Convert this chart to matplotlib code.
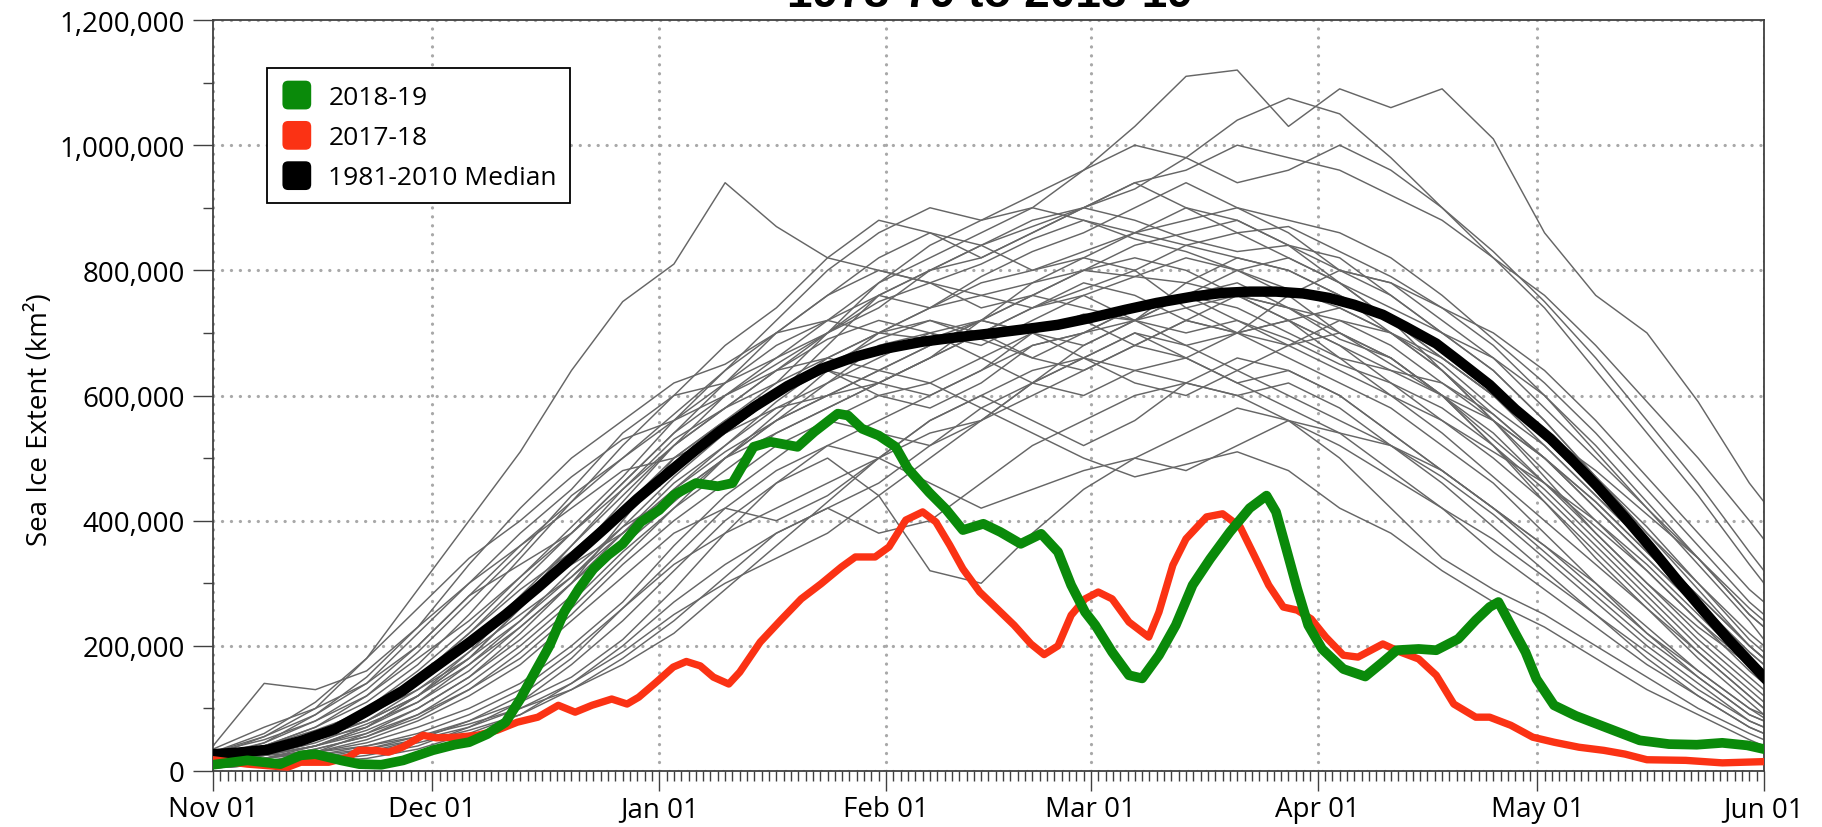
import numpy as np
import matplotlib
matplotlib.use("Agg")
import matplotlib.pyplot as plt
from matplotlib.patches import FancyBboxPatch, Patch
from matplotlib.legend_handler import HandlerPatch

plt.rcParams['font.family'] = ['Open Sans', 'DejaVu Sans']

# ---------------- data (days since Nov 01, extent in thousand km^2) -------------
month_ticks = [0, 30, 61, 92, 120, 151, 181, 212]
month_labels = ["Nov 01", "Dec 01", "Jan 01", "Feb 01", "Mar 01", "Apr 01", "May 01", "Jun 01"]

green_days = [0, 4.7, 9.2, 12, 14, 17.5, 20, 23, 26, 30, 33, 35, 37.5, 40, 42, 44, 46, 48, 50,
              52, 54, 56, 58.5, 61, 63, 66, 69, 71, 73.9, 76.2, 79.9, 82.2, 85.4, 86.8, 88.7, 91,
              93.3, 95, 97.9, 100.2, 102.5, 105.3, 107.6, 110.4, 113.2, 115.5, 117.3, 119.2, 120.6,
              122.9, 125.2, 127, 129.3, 131.6, 133.9, 136.3, 139, 141.7, 144, 145.3, 146.7, 148.2,
              149.7, 151.6, 154.5, 157.5, 159.9, 161.8, 164.8, 167.2, 170.2, 172.6, 174.5, 175.7,
              177.4, 179.4, 180.9, 183.3, 186.3, 189.2, 192.1, 195, 199, 202.8, 206.3, 209.7, 212]
green_vals = [10, 17, 11, 25, 27, 17, 11, 10, 17, 33, 42, 46, 59, 78, 115, 158, 200, 254, 291,
              323, 345, 363, 398, 417, 441, 460, 455, 460, 518, 526, 518, 542, 571, 568, 547, 536,
              518, 483, 445, 418, 385, 395, 382, 363, 379, 350, 297, 254, 233,
              190, 153, 148, 185, 233, 297, 339, 382, 420, 440, 414, 355, 291,
              233, 195, 163, 151, 174, 193, 195, 193, 211, 241, 262, 270,
              233, 190, 147, 105, 88, 75, 62, 49, 43, 42, 45, 41, 35]

red_days = [0, 4.7, 10.2, 12, 15.8, 18.5, 19.9, 22.2, 24, 25.9, 28.7, 30.5, 33.3, 36.1, 38.8, 41.6,
            44.4, 47.2, 49.5, 51.8, 54.5, 56.6, 58.2, 60.6, 62.9, 64.7, 66.6, 68.4, 70.5, 72, 74.8,
            77.6, 80.4, 83.1, 85.9, 87.8, 90.5, 92.4, 94.7, 97, 98.8, 100.7, 102.5, 104.8, 107.2,
            109.5, 111.8, 113.6, 115.5, 117.3, 119.2, 121, 122.9, 125.2, 127.9, 129.3, 131.2, 133,
            135.8, 138, 140.4, 142.3, 144.3, 146.3, 148.2, 150.1, 152.1, 154.5, 156.5, 159.9,
            162.3, 164.8, 167.2, 169.6, 172.6, 174.5, 177.4, 180.4, 183.3, 186.7, 190.1, 193, 196,
            201.3, 206.3, 212]
red_vals = [18, 11, 6, 14, 14, 22, 33, 33, 30, 38, 57, 53, 54, 57, 65, 78,
            86, 105, 94, 105, 115, 107, 118, 142, 166, 175, 168, 150, 139, 158, 206,
            241, 275, 299, 326, 342, 342, 358, 401, 414, 398, 361, 323, 286, 259,
            233, 203, 186, 200, 249, 275, 286, 275, 238, 214, 254, 329, 371,
            406, 411, 390, 345, 297, 262, 257, 243, 214, 185, 182, 203,
            190, 179, 153, 107, 86, 86, 73, 54, 46, 38, 33, 27, 18,
            17, 13, 15]

median_days = [0, 3, 7.5, 12, 16.7, 21, 25.9, 30, 35.1, 40, 44.4, 49, 53.6, 58, 62.9, 66, 69.3,
               74, 78.5, 83, 87.8, 92, 97, 101, 106.2, 111, 115.5, 120, 124.7, 129, 133.9, 138,
               141.7, 145.3, 149, 152.5, 156, 159.9, 163, 167.2, 170, 174.5, 178, 182.8, 186,
               189.2, 193, 196.5, 200, 203.8, 207, 212]
median_vals = [27, 29, 34, 48, 67, 95, 128, 163, 206, 250, 293, 340, 388, 435, 483, 513, 543,
               582, 615, 642, 662, 675, 686, 692, 699, 706, 713, 724, 737, 748, 758, 764,
               766, 766, 763, 756, 745, 729, 710, 683, 658, 617, 578, 531, 494,
               455, 405, 357, 307, 255, 212, 150]

grey_days = [0, 7, 14, 21, 28, 35, 42, 49, 56, 63, 70, 77, 84, 91, 98, 105, 112, 119, 126, 133,
             140, 147, 154, 161, 168, 175, 182, 189, 196, 203, 210, 212]
grey_seasons = [
    [40, 140, 130, 160, 230, 330, 420, 500, 560, 620, 650, 700, 720, 760, 740, 780, 800, 830, 860, 840, 820, 800, 760, 720, 640, 560, 470, 380, 300, 220, 150, 130],
    [30, 60, 110, 180, 260, 340, 400, 470, 530, 560, 600, 640, 690, 720, 700, 680, 720, 760, 790, 820, 800, 760, 700, 650, 600, 540, 460, 390, 320, 240, 170, 150],
    [25, 55, 100, 180, 290, 400, 510, 640, 750, 810, 940, 870, 820, 800, 780, 810, 850, 880, 850, 830, 800, 770, 740, 700, 650, 580, 520, 440, 360, 280, 200, 180],
    [20, 45, 90, 150, 230, 300, 380, 450, 540, 600, 620, 660, 700, 740, 800, 840, 870, 900, 880, 850, 830, 840, 820, 760, 700, 640, 560, 470, 380, 300, 220, 200],
    [15, 40, 70, 120, 190, 270, 350, 440, 500, 560, 620, 680, 720, 700, 690, 720, 760, 740, 720, 700, 720, 690, 650, 620, 580, 520, 450, 370, 290, 210, 140, 120],
    [35, 70, 100, 140, 200, 280, 330, 380, 450, 530, 580, 640, 660, 640, 620, 660, 700, 730, 720, 760, 780, 740, 690, 660, 600, 530, 460, 380, 300, 230, 170, 150],
    [10, 20, 40, 70, 120, 180, 260, 340, 430, 520, 600, 650, 700, 750, 780, 760, 740, 770, 800, 840, 860, 870, 830, 790, 740, 680, 600, 510, 420, 330, 240, 210],
    [20, 30, 50, 80, 130, 190, 250, 310, 380, 460, 520, 590, 650, 690, 720, 700, 660, 640, 680, 720, 760, 740, 700, 660, 600, 520, 430, 340, 260, 180, 110, 90],
    [15, 25, 45, 75, 110, 160, 230, 300, 400, 500, 560, 600, 640, 600, 580, 620, 680, 700, 740, 760, 740, 700, 660, 640, 620, 570, 500, 420, 340, 260, 180, 160],
    [25, 35, 55, 90, 140, 200, 280, 360, 450, 520, 580, 620, 660, 700, 740, 790, 830, 860, 900, 940, 900, 880, 860, 820, 760, 690, 620, 540, 450, 360, 270, 250],
    [10, 15, 30, 60, 100, 150, 220, 300, 370, 450, 520, 580, 600, 640, 680, 720, 700, 660, 620, 600, 640, 680, 700, 660, 600, 520, 440, 360, 280, 200, 130, 110],
    [20, 30, 50, 70, 110, 170, 240, 320, 390, 440, 500, 560, 620, 680, 700, 660, 620, 600, 640, 660, 620, 580, 540, 520, 480, 420, 360, 290, 220, 160, 100, 90],
    [30, 40, 60, 100, 150, 220, 290, 350, 420, 480, 540, 600, 680, 760, 800, 820, 860, 900, 940, 960, 1000, 980, 960, 920, 880, 820, 760, 680, 590, 500, 400, 370],
    [20, 30, 50, 90, 150, 220, 300, 380, 460, 540, 600, 660, 720, 780, 820, 860, 900, 960, 1030, 1110, 1120, 1030, 1090, 1060, 1090, 1010, 860, 760, 700, 590, 460, 430],
    [15, 25, 40, 70, 120, 190, 270, 360, 440, 520, 580, 640, 700, 760, 800, 840, 880, 900, 930, 980, 1040, 1075, 1050, 980, 900, 820, 740, 640, 540, 440, 330, 300],
    [10, 20, 35, 55, 90, 140, 200, 270, 350, 420, 480, 540, 580, 620, 660, 700, 740, 780, 760, 720, 700, 720, 740, 700, 660, 600, 540, 470, 390, 300, 210, 190],
    [15, 25, 40, 65, 100, 150, 210, 280, 360, 430, 500, 560, 600, 620, 600, 640, 700, 720, 680, 660, 700, 720, 680, 620, 560, 500, 430, 350, 270, 190, 120, 100],
    [20, 35, 55, 80, 120, 180, 260, 340, 420, 500, 560, 620, 700, 780, 840, 880, 900, 880, 860, 880, 900, 860, 800, 760, 700, 640, 560, 470, 380, 290, 200, 180],
    [5, 10, 20, 35, 55, 80, 110, 150, 210, 290, 380, 460, 520, 560, 600, 640, 680, 700, 720, 740, 760, 720, 660, 600, 540, 470, 400, 330, 260, 190, 120, 100],
    [10, 15, 25, 40, 60, 90, 130, 190, 260, 340, 420, 480, 520, 500, 460, 420, 450, 480, 500, 480, 520, 560, 540, 480, 420, 350, 290, 230, 170, 120, 70, 60],
    [5, 10, 15, 25, 40, 70, 110, 170, 240, 320, 400, 460, 500, 440, 320, 300, 380, 450, 500, 540, 580, 560, 500, 420, 340, 290, 250, 200, 150, 100, 60, 50],
    [10, 15, 20, 30, 50, 80, 120, 180, 260, 330, 380, 420, 460, 500, 540, 560, 600, 640, 680, 720, 700, 660, 620, 580, 520, 460, 380, 300, 220, 150, 90, 80],
    [15, 20, 30, 45, 70, 100, 140, 200, 270, 360, 440, 500, 560, 600, 620, 580, 540, 500, 470, 490, 510, 480, 420, 380, 320, 270, 230, 180, 130, 90, 50, 40],
    [5, 10, 15, 20, 35, 60, 90, 140, 200, 270, 330, 380, 420, 460, 520, 580, 620, 660, 700, 680, 640, 600, 560, 520, 470, 410, 340, 270, 200, 140, 80, 70],
    [10, 15, 25, 35, 50, 70, 100, 140, 190, 250, 300, 340, 380, 440, 500, 560, 620, 680, 720, 760, 800, 820, 780, 720, 660, 600, 520, 440, 360, 280, 200, 180],
    [20, 25, 30, 40, 55, 75, 100, 130, 170, 220, 290, 360, 430, 500, 560, 600, 640, 660, 640, 620, 600, 620, 580, 520, 460, 390, 320, 250, 180, 120, 70, 60],
    [20, 40, 70, 110, 170, 250, 340, 430, 500, 570, 640, 700, 760, 800, 780, 740, 760, 800, 840, 860, 880, 840, 780, 720, 660, 600, 540, 480, 410, 340, 260, 240],
    [30, 50, 80, 120, 180, 240, 310, 380, 460, 540, 620, 700, 760, 820, 860, 840, 800, 820, 860, 900, 880, 840, 800, 780, 740, 700, 640, 560, 470, 380, 290, 270],
    [15, 30, 55, 90, 140, 200, 270, 340, 410, 480, 540, 600, 660, 700, 740, 760, 780, 800, 790, 780, 760, 740, 720, 680, 620, 560, 500, 430, 350, 270, 190, 170],
    [25, 40, 60, 90, 130, 180, 240, 310, 390, 470, 540, 580, 620, 660, 700, 720, 700, 680, 720, 780, 820, 800, 760, 700, 640, 570, 500, 420, 340, 260, 180, 160],
    [10, 20, 35, 55, 85, 130, 190, 260, 340, 420, 500, 570, 640, 700, 720, 690, 660, 700, 740, 760, 720, 680, 640, 600, 560, 510, 460, 400, 330, 250, 170, 150],
    [20, 30, 50, 80, 120, 170, 230, 300, 380, 450, 510, 560, 600, 640, 680, 720, 760, 800, 820, 800, 760, 720, 680, 640, 600, 560, 500, 430, 350, 270, 190, 170],
    [20, 35, 60, 100, 160, 230, 310, 390, 470, 560, 640, 720, 800, 860, 900, 880, 920, 960, 1000, 980, 940, 960, 1000, 960, 900, 830, 750, 660, 560, 460, 350, 320],
    [25, 45, 80, 130, 200, 280, 360, 430, 520, 600, 680, 740, 820, 880, 860, 820, 860, 900, 940, 900, 860, 820, 780, 740, 700, 660, 600, 520, 430, 340, 250, 230],
    [10, 20, 30, 50, 80, 120, 170, 240, 310, 380, 420, 400, 440, 500, 560, 600, 560, 520, 560, 620, 660, 640, 600, 540, 480, 420, 360, 300, 230, 160, 100, 85],
    [30, 55, 90, 140, 220, 300, 360, 420, 480, 500, 540, 600, 640, 620, 660, 720, 780, 820, 800, 740, 700, 680, 720, 700, 640, 560, 480, 400, 320, 240, 160, 140],
    [15, 25, 40, 60, 90, 130, 180, 250, 330, 400, 460, 520, 560, 540, 520, 560, 620, 660, 700, 660, 620, 640, 600, 540, 480, 420, 350, 280, 210, 150, 90, 80],
    [20, 40, 65, 95, 140, 200, 270, 330, 380, 440, 500, 540, 580, 620, 660, 700, 740, 760, 720, 680, 700, 760, 800, 780, 720, 660, 580, 500, 420, 340, 250, 230],
    [5, 10, 15, 30, 45, 65, 90, 130, 180, 240, 310, 380, 420, 380, 400, 460, 520, 560, 600, 620, 600, 560, 520, 470, 420, 370, 310, 250, 190, 130, 80, 70],
]

legend_labels = ["2018-19", "2017-18", "1981-2010 Median"]
title_text = "1978-79 to 2018-19"
ylabel_text = "Sea Ice Extent (km²)"

GREEN = "#0a8a0a"
RED = "#fb3214"
BLACK = "#000000"
GREY = "#666666"
AXC = "#404040"

# ---------------- figure ----------------
W, H = 1822, 828
fig = plt.figure(figsize=(W / 100, H / 100), dpi=100)
ax = fig.add_axes([213 / W, 1 - 772 / H, 1551 / W, 751 / H])

k = 1000.0
for vals in grey_seasons:
    ax.plot(grey_days, np.array(vals) * k, color=GREY, lw=1.05, zorder=2)
ax.plot(median_days, np.array(median_vals) * k, color=BLACK, lw=7.5, zorder=3,
        solid_joinstyle='round')
ax.plot(red_days, np.array(red_vals) * k, color=RED, lw=5.3, zorder=4, solid_joinstyle='round')
ax.plot(green_days, np.array(green_vals) * k, color=GREEN, lw=7.0, zorder=5,
        solid_joinstyle='round')

ax.set_xlim(0, 212)
ax.set_ylim(0, 1200000)

ax.set_xticks(month_ticks)
ax.set_xticklabels(month_labels)
ax.set_xticks(np.arange(0, 213, 1), minor=True)
ax.set_yticks(np.arange(0, 1200001, 200000))
ax.set_yticklabels([f"{v:,}" for v in range(0, 1200001, 200000)])
ax.set_yticks(np.arange(0, 1200001, 100000), minor=True)

ax.tick_params(axis='both', which='major', direction='out', length=14.4, width=1.0,
               color=AXC, labelsize=20, labelcolor='black')
ax.tick_params(axis='x', which='major', pad=3)
ax.tick_params(axis='y', which='major', pad=6)
ax.tick_params(axis='both', which='minor', direction='out', length=7.2, width=1.0, color=AXC)
ax.tick_params(top=False, right=False, which='both')

for sp in ax.spines.values():
    sp.set_color(AXC)
    sp.set_linewidth(1.3)

ax.set_axisbelow(True)
ax.grid(True, which='major', color='#a8a8a8', lw=2.3, linestyle=(0, (0.05, 2.75)))
for gl in ax.get_xgridlines() + ax.get_ygridlines():
    gl.set_dash_capstyle('round')

fig.text(40 / W, 1 - 420 / H, ylabel_text, rotation=90, ha='center', va='center', fontsize=20)

fig.text(990 / W, 1 - 7 / H, title_text, ha='center', va='baseline', fontsize=33,
         fontweight='bold', family=['Liberation Sans', 'DejaVu Sans'])


def rounded_square(legend, orig_handle, xdescent, ydescent, width, height, fontsize):
    s = min(width, height)
    x0 = -xdescent + (width - s) / 2
    y0 = -ydescent + (height - s) / 2
    return FancyBboxPatch((x0, y0), s, s, boxstyle=f"round,pad=0,rounding_size={s * 0.2}")


handles = [Patch(facecolor=GREEN, edgecolor='none'),
           Patch(facecolor=RED, edgecolor='none'),
           Patch(facecolor=BLACK, edgecolor='none')]
leg = ax.legend(handles, legend_labels, loc='upper left',
                bbox_to_anchor=(267 / W, 1 - 69 / H), bbox_transform=fig.transFigure,
                borderaxespad=0, fontsize=19, frameon=True, fancybox=False,
                edgecolor='black', framealpha=1, borderpad=0.48, handlelength=1.3,
                handleheight=1.3, handletextpad=0.55, labelspacing=0.42,
                handler_map={Patch: HandlerPatch(patch_func=rounded_square)})
leg.get_frame().set_linewidth(1.3)
leg.set_zorder(10)

fig.savefig("out.png", dpi=100)
